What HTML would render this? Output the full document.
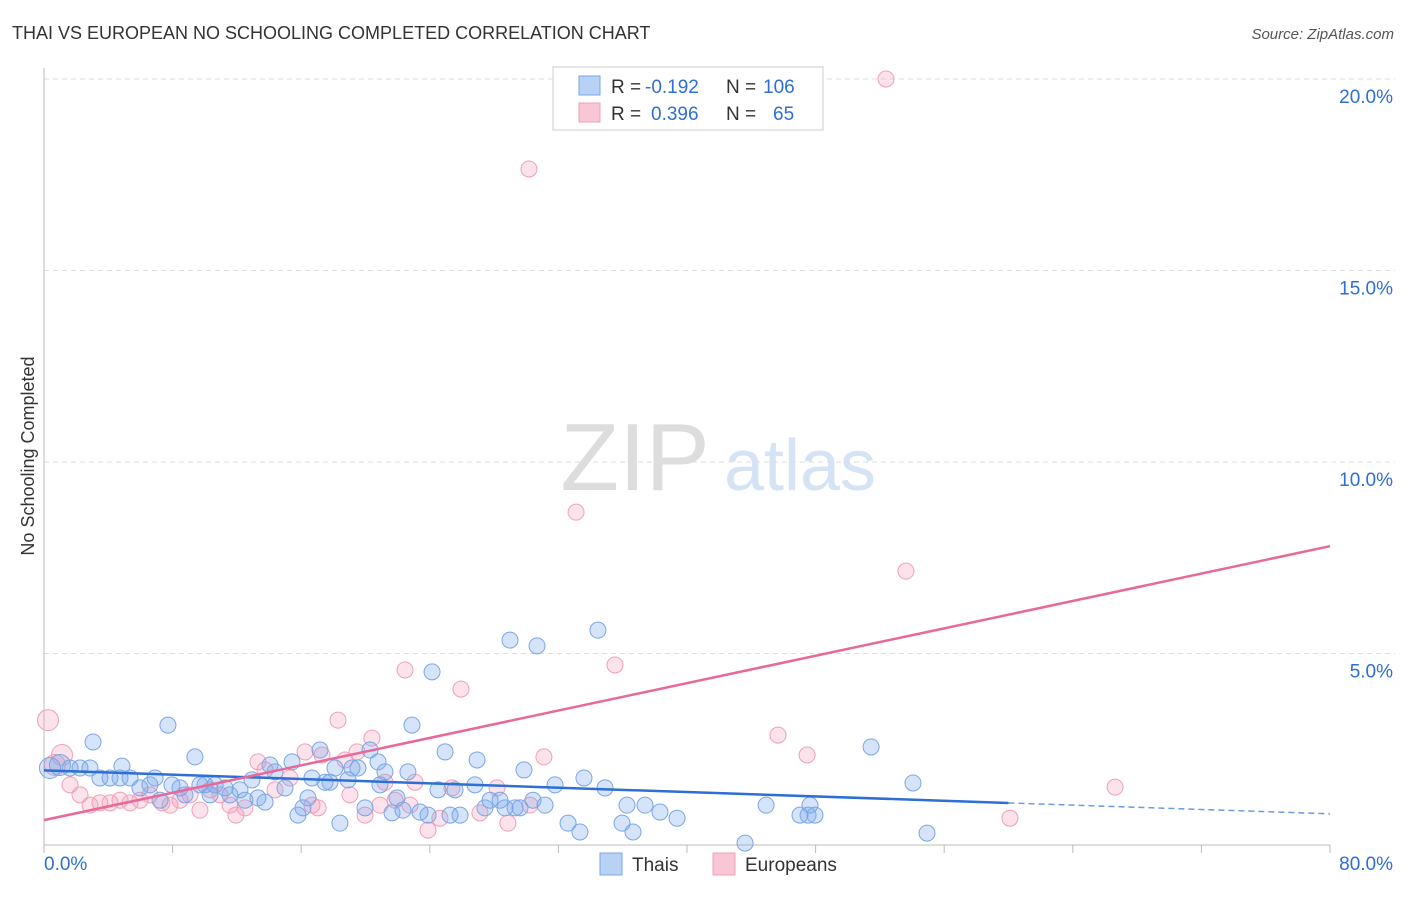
<!DOCTYPE html>
<html><head><meta charset="utf-8"><style>
body{margin:0;background:#fff;font-family:"Liberation Sans",sans-serif;}
svg text{font-family:"Liberation Sans",sans-serif;}
</style></head><body>
<svg id="chart" width="1406" height="892">
<text x="12" y="39" font-size="18" fill="#333">THAI VS EUROPEAN NO SCHOOLING COMPLETED CORRELATION CHART</text>
<text x="1394" y="39" font-size="15" fill="#555" font-style="italic" text-anchor="end">Source: ZipAtlas.com</text>
<text transform="translate(34,456) rotate(-90)" font-size="18" fill="#333" text-anchor="middle">No Schooling Completed</text>
<g><text x="635" y="490" font-size="96" fill="#ddd" font-family="Liberation Serif" text-anchor="middle">ZIP</text><text x="800" y="490" font-size="72" fill="#d5e3f5" text-anchor="middle">atlas</text></g>
<g id="grid"></g><g id="axes"></g><g id="pts"></g><g id="lines"></g>
<g>
<rect x="553" y="67" width="270" height="63" fill="#fff" stroke="#ccc"/>
<rect x="579" y="76" width="21" height="19" fill="#b8d2f5" stroke="#7aa6e6"/>
<rect x="579" y="103" width="21" height="19" fill="#f9c6d6" stroke="#f0a0b8"/>
<text x="611" y="93" font-size="19" fill="#333">R =</text>
<text x="645" y="93" font-size="19" fill="#2d6fd6">-0.192</text>
<text x="726" y="93" font-size="19" fill="#333">N =</text>
<text x="763" y="93" font-size="19" fill="#2d6fd6">106</text>
<text x="611" y="120" font-size="19" fill="#333">R =</text>
<text x="651" y="120" font-size="19" fill="#2d6fd6">0.396</text>
<text x="726" y="120" font-size="19" fill="#333">N =</text>
<text x="773" y="120" font-size="19" fill="#2d6fd6">65</text>
</g>
<g>
<rect x="600" y="853" width="22" height="22" fill="#b8d2f5" stroke="#7aa6e6"/>
<text x="632" y="871" font-size="19" fill="#333">Thais</text>
<rect x="713" y="853" width="22" height="22" fill="#f9c6d6" stroke="#f0a0b8"/>
<text x="745" y="871" font-size="19" fill="#333">Europeans</text>
</g>
</svg>
<script>
const yTicks=[5,10,15,20];
const xTickLabels=["0.0%","80.0%"];
const thaiX=[0.37,0.99,1.62,2.24,2.86,3.05,3.48,4.11,4.73,4.85,5.35,5.97,6.59,6.91,7.22,7.71,7.96,8.46,8.77,9.39,9.70,10.02,10.33,10.64,11.26,11.57,12.19,12.50,12.94,13.31,13.75,14.06,14.37,14.99,15.43,15.80,16.11,16.42,16.67,17.17,17.48,17.79,18.10,18.41,18.91,19.16,19.53,19.97,20.28,20.78,20.90,21.21,21.65,21.96,22.33,22.64,22.89,23.39,23.89,24.14,24.51,24.95,25.26,25.57,25.88,26.81,26.94,27.43,27.75,28.37,28.68,28.99,29.30,29.61,29.86,30.42,30.67,31.17,31.79,32.60,33.34,33.59,34.46,34.90,35.96,36.27,36.64,37.39,38.32,39.38,43.61,44.92,47.03,47.53,47.65,47.96,51.45,54.06,54.93];
const thaiY=[2.01,2.09,2.01,2.01,2.01,2.69,1.75,1.75,1.75,2.06,1.75,1.49,1.57,1.75,1.17,3.13,1.57,1.49,1.31,2.30,1.57,1.57,1.31,1.57,1.49,1.31,1.44,1.17,1.70,1.23,1.12,2.09,1.91,1.49,2.17,0.78,0.97,1.23,1.75,2.48,1.64,1.64,2.01,0.57,1.70,2.01,2.01,0.97,2.48,2.17,1.57,1.91,0.84,1.23,0.91,1.91,3.13,0.86,0.78,4.52,1.44,2.43,0.78,1.44,0.78,1.57,2.22,0.97,1.17,1.17,0.97,5.35,0.97,0.97,1.96,1.17,5.20,1.04,1.57,0.57,0.34,1.75,5.61,1.49,0.57,1.04,0.34,1.04,0.86,0.70,0.05,1.04,0.78,0.78,1.04,0.78,2.56,1.62,0.31];
const eurX=[0.25,0.68,1.12,1.62,2.24,2.86,3.48,4.11,4.73,5.35,5.97,6.59,7.34,7.84,8.46,9.08,9.70,10.33,10.95,11.57,11.94,12.50,13.31,13.75,14.37,15.30,16.24,16.67,17.05,17.29,18.29,18.72,19.03,19.47,19.97,20.40,20.90,21.21,21.84,22.46,22.77,23.08,23.89,24.63,25.38,25.94,27.12,28.18,28.86,30.23,30.17,31.10,33.10,35.52,45.66,47.47,52.38,53.62,60.09,66.63];
const eurY=[3.26,2.09,2.35,1.57,1.31,1.04,1.10,1.10,1.17,1.10,1.17,1.31,1.10,1.04,1.17,1.31,0.91,1.44,1.31,1.04,0.78,0.97,2.17,1.96,1.44,1.75,2.43,1.04,0.97,2.35,3.26,2.22,1.31,2.43,0.78,2.79,1.04,1.64,1.17,4.57,1.04,1.64,0.39,0.70,1.49,4.07,0.84,1.49,0.57,1.04,17.65,2.30,8.69,4.70,2.87,2.35,20.0,7.15,0.70,1.51];
const thaiTrend=[1.95,-0.0142];
const eurTrend=[0.65,0.0894];
const NS="http://www.w3.org/2000/svg";
const X0=44,X1=1330,Y0=845,Y20=79;
const sx=v=>X0+(X1-X0)*v/80, sy=v=>Y0-(Y0-Y20)*v/20;
function mk(t,a,p){const e=document.createElementNS(NS,t);for(const k in a)e.setAttribute(k,a[k]);p.appendChild(e);return e;}
const grid=document.getElementById('grid'),axes=document.getElementById('axes'),pts=document.getElementById('pts'),lines=document.getElementById('lines');
yTicks.forEach(t=>{
 const l=mk('line',{x1:X0,x2:1395,y1:sy(t),y2:sy(t),stroke:'#ddd','stroke-dasharray':'5,4'},grid);
 
 
 const tx=mk('text',{x:1393,y:sy(t)+24,'font-size':19,fill:'#2d6fd6','text-anchor':'end'},axes);
 tx.textContent=t.toFixed(1)+'%';
 
 
});
const ax=mk('line',{x1:X0,x2:X0,y1:68,y2:Y0,stroke:'#bbb'},axes);


const bx=mk('line',{x1:X0,x2:X1,y1:Y0,y2:Y0,stroke:'#bbb'},axes);


for(let i=0;i<=10;i++){const v=i*8;mk('line',{x1:sx(v),x2:sx(v),y1:Y0,y2:Y0+8,stroke:'#bbb'},axes);}
xTickLabels.forEach((s,i)=>{const t=mk('text',{x:i?1393:44,y:870,'font-size':19,fill:'#2d6fd6','text-anchor':i?'end':'start'},axes);t.textContent=s;
 
 });
function dots(xs,ys,fill,stroke,name){xs.forEach((x,i)=>{
 const r=(x<1.5)?10.5:8;
 const c=mk('circle',{cx:sx(x),cy:sy(ys[i]),r:r,fill:fill,stroke:stroke,'stroke-width':1},pts);
 
 
});}
dots(eurX,eurY,'rgba(244,150,180,0.28)','#f0a0b8','european-point');
dots(thaiX,thaiY,'rgba(120,165,235,0.3)','#7aa6e6','thai-point');
const bl=mk('line',{x1:sx(0),y1:sy(thaiTrend[0]),x2:sx(60),y2:sy(thaiTrend[0]+60*thaiTrend[1]),stroke:'#2d6fd6','stroke-width':2.5},lines);


const bd=mk('line',{x1:sx(60),y1:sy(thaiTrend[0]+60*thaiTrend[1]),x2:sx(80),y2:sy(thaiTrend[0]+80*thaiTrend[1]),stroke:'#6b9be0','stroke-width':1.5,'stroke-dasharray':'6,4'},lines);


const pl=mk('line',{x1:sx(0),y1:sy(eurTrend[0]),x2:sx(80),y2:sy(eurTrend[0]+80*eurTrend[1]),stroke:'#e8689a','stroke-width':2.5},lines);


</script>
</body></html>
